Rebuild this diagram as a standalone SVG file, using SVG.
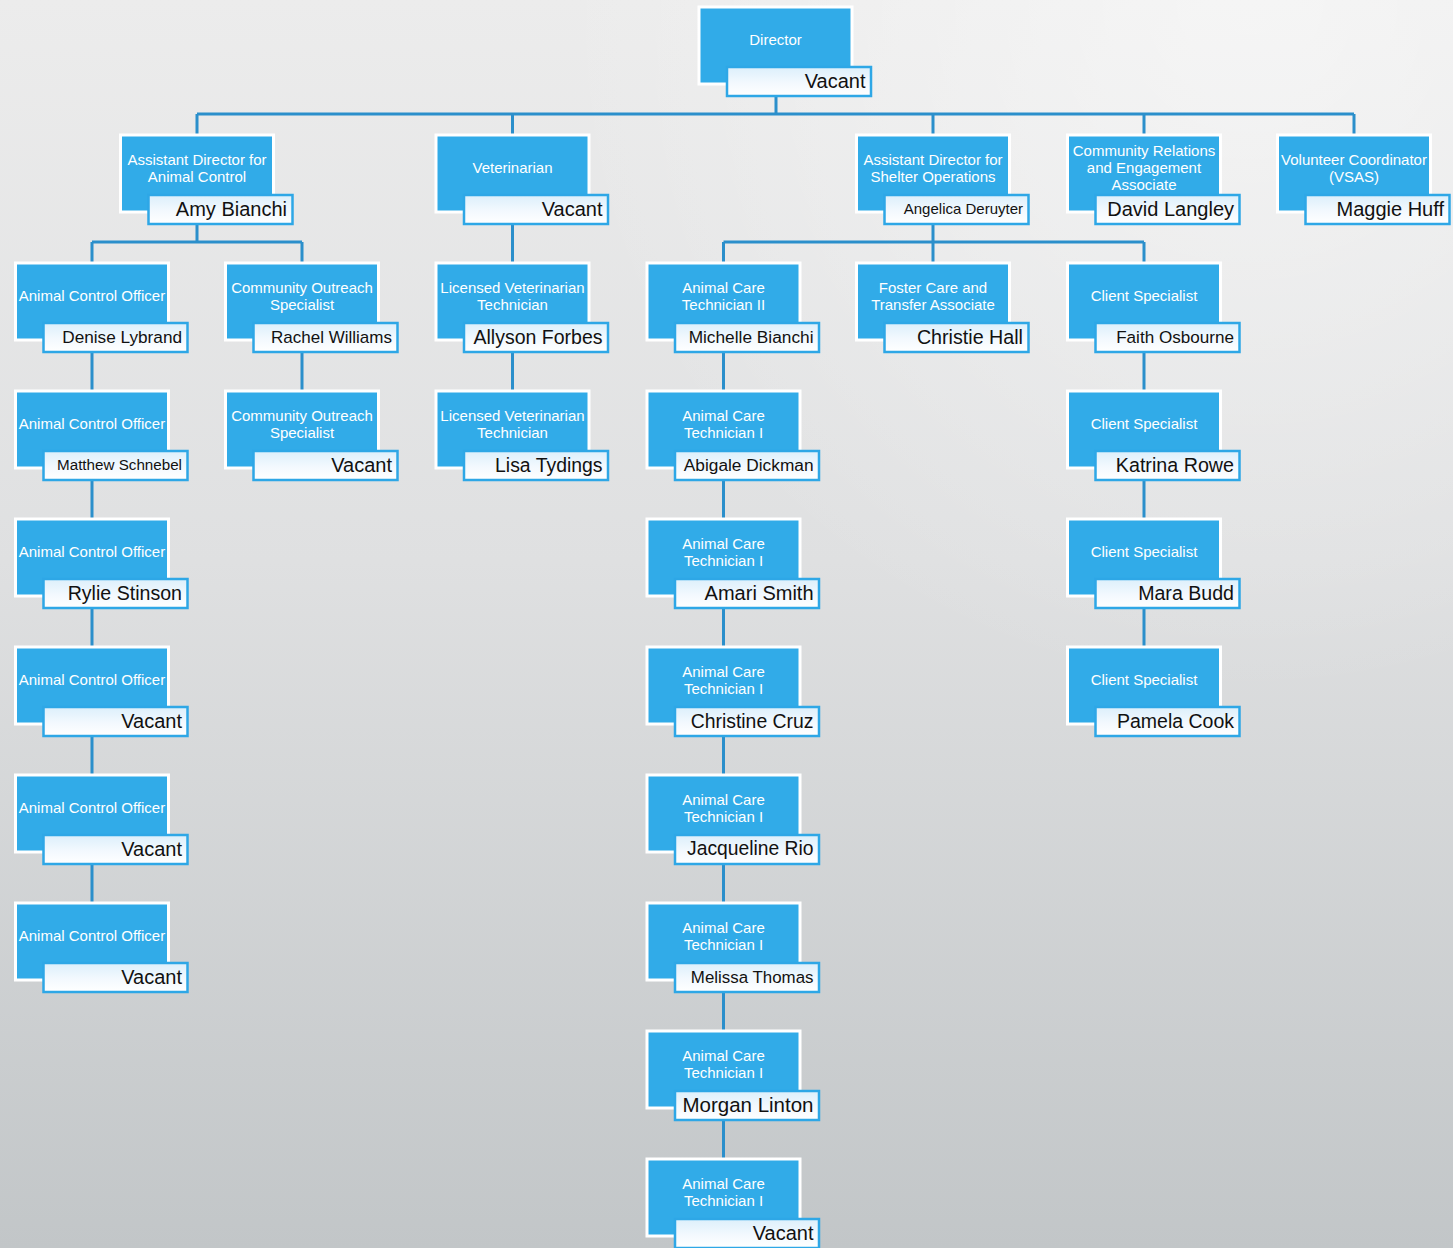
<svg xmlns="http://www.w3.org/2000/svg" width="1453" height="1248" viewBox="0 0 1453 1248">
<defs>
<linearGradient id="bg" x1="0" y1="0" x2="0" y2="1">
<stop offset="0" stop-color="#ececec"/>
<stop offset="0.45" stop-color="#dfe0e1"/>
<stop offset="1" stop-color="#c2c6c8"/>
</linearGradient>
<radialGradient id="hl" gradientUnits="userSpaceOnUse" cx="1250" cy="0" r="700">
<stop offset="0" stop-color="#ffffff" stop-opacity="0.5"/>
<stop offset="1" stop-color="#ffffff" stop-opacity="0"/>
</radialGradient>
<linearGradient id="ng" x1="0" y1="0" x2="0" y2="1">
<stop offset="0" stop-color="#dceffb"/>
<stop offset="0.55" stop-color="#f3f9fe"/>
<stop offset="1" stop-color="#ffffff"/>
</linearGradient>
<style>
.box{fill:#31abe8;stroke:#ffffff;stroke-width:3}
.nm{fill:url(#ng);stroke:#2ea7e6;stroke-width:2.5}
.t{font-family:"Liberation Sans",Arial,sans-serif;font-size:15px;fill:#ffffff;text-anchor:middle}
.n{font-family:"Liberation Sans",Arial,sans-serif;fill:#111111;text-anchor:end}
.c{stroke:#2b8fcb;stroke-width:3;fill:none}
</style>
</defs>
<rect width="1453" height="1248" fill="url(#bg)"/>
<rect width="1453" height="1248" fill="url(#hl)"/>

<g id="connectors" class="c">
<path d="M776,97V114M197,114H1354M197,114V135M512.5,114V135M933,114V135M1144,114V135M1354,114V135"/>
<path d="M197,224V242M92,242H302M92,242V263M302,242V263"/>
<path d="M512.5,224V263"/>
<path d="M933,224V242M723.5,242H1144M723.5,242V263M933,242V263M1144,242V263"/>
<path d="M92,352V391M92,480V519M92,608V647M92,736V775M92,864V903"/>
<path d="M302,352V391"/>
<path d="M512.5,352V391"/>
<path d="M723.5,352V391M723.5,480V519M723.5,608V647M723.5,736V775M723.5,864V903M723.5,992V1031M723.5,1120V1159"/>
<path d="M1144,352V391M1144,480V519M1144,608V647"/>
</g>

<g id="director" transform="translate(699,7)">
<rect class="box" x="0" y="0" width="153" height="77"/>
<rect class="nm" x="28" y="60" width="144" height="29"/>
<text class="t" x="76.5" y="38">Director</text>
<text class="n" x="166.5" y="80.7" font-size="20">Vacant</text>
</g>

<g id="ad-animal-control" transform="translate(120.5,135)">
<rect class="box" x="0" y="0" width="153" height="77"/>
<rect class="nm" x="28" y="60" width="144" height="29"/>
<text class="t" x="76.5" y="29.5">Assistant Director for</text>
<text class="t" x="76.5" y="46.5">Animal Control</text>
<text class="n" x="166.5" y="80.7" font-size="20">Amy Bianchi</text>
</g>

<g id="veterinarian" transform="translate(436,135)">
<rect class="box" x="0" y="0" width="153" height="77"/>
<rect class="nm" x="28" y="60" width="144" height="29"/>
<text class="t" x="76.5" y="38">Veterinarian</text>
<text class="n" x="166.5" y="80.7" font-size="20">Vacant</text>
</g>

<g id="ad-shelter-ops" transform="translate(856.5,135)">
<rect class="box" x="0" y="0" width="153" height="77"/>
<rect class="nm" x="28" y="60" width="144" height="29"/>
<text class="t" x="76.5" y="29.5">Assistant Director for</text>
<text class="t" x="76.5" y="46.5">Shelter Operations</text>
<text class="n" x="166.5" y="78.9" font-size="15">Angelica Deruyter</text>
</g>

<g id="community-relations" transform="translate(1067.5,135)">
<rect class="box" x="0" y="0" width="153" height="77"/>
<rect class="nm" x="28" y="60" width="144" height="29"/>
<text class="t" x="76.5" y="21">Community Relations</text>
<text class="t" x="76.5" y="38">and Engagement</text>
<text class="t" x="76.5" y="55">Associate</text>
<text class="n" x="166.5" y="80.7" font-size="20">David Langley</text>
</g>

<g id="volunteer-coordinator" transform="translate(1277.5,135)">
<rect class="box" x="0" y="0" width="153" height="77"/>
<rect class="nm" x="28" y="60" width="144" height="29"/>
<text class="t" x="76.5" y="29.5">Volunteer Coordinator</text>
<text class="t" x="76.5" y="46.5">(VSAS)</text>
<text class="n" x="166.5" y="80.7" font-size="20">Maggie Huff</text>
</g>

<g id="aco-1" transform="translate(15.5,263)">
<rect class="box" x="0" y="0" width="153" height="77"/>
<rect class="nm" x="28" y="60" width="144" height="29"/>
<text class="t" x="76.5" y="38">Animal Control Officer</text>
<text class="n" x="166.5" y="79.6" font-size="17.2">Denise Lybrand</text>
</g>
<g id="aco-2" transform="translate(15.5,391)">
<rect class="box" x="0" y="0" width="153" height="77"/>
<rect class="nm" x="28" y="60" width="144" height="29"/>
<text class="t" x="76.5" y="38">Animal Control Officer</text>
<text class="n" x="166.5" y="78.9" font-size="15.2">Matthew Schnebel</text>
</g>
<g id="aco-3" transform="translate(15.5,519)">
<rect class="box" x="0" y="0" width="153" height="77"/>
<rect class="nm" x="28" y="60" width="144" height="29"/>
<text class="t" x="76.5" y="38">Animal Control Officer</text>
<text class="n" x="166.5" y="80.5" font-size="19.6">Rylie Stinson</text>
</g>
<g id="aco-4" transform="translate(15.5,647)">
<rect class="box" x="0" y="0" width="153" height="77"/>
<rect class="nm" x="28" y="60" width="144" height="29"/>
<text class="t" x="76.5" y="38">Animal Control Officer</text>
<text class="n" x="166.5" y="80.7" font-size="20">Vacant</text>
</g>
<g id="aco-5" transform="translate(15.5,775)">
<rect class="box" x="0" y="0" width="153" height="77"/>
<rect class="nm" x="28" y="60" width="144" height="29"/>
<text class="t" x="76.5" y="38">Animal Control Officer</text>
<text class="n" x="166.5" y="80.7" font-size="20">Vacant</text>
</g>
<g id="aco-6" transform="translate(15.5,903)">
<rect class="box" x="0" y="0" width="153" height="77"/>
<rect class="nm" x="28" y="60" width="144" height="29"/>
<text class="t" x="76.5" y="38">Animal Control Officer</text>
<text class="n" x="166.5" y="80.7" font-size="20">Vacant</text>
</g>

<g id="cos-1" transform="translate(225.5,263)">
<rect class="box" x="0" y="0" width="153" height="77"/>
<rect class="nm" x="28" y="60" width="144" height="29"/>
<text class="t" x="76.5" y="29.5">Community Outreach</text>
<text class="t" x="76.5" y="46.5">Specialist</text>
<text class="n" x="166.5" y="79.6" font-size="17">Rachel Williams</text>
</g>
<g id="cos-2" transform="translate(225.5,391)">
<rect class="box" x="0" y="0" width="153" height="77"/>
<rect class="nm" x="28" y="60" width="144" height="29"/>
<text class="t" x="76.5" y="29.5">Community Outreach</text>
<text class="t" x="76.5" y="46.5">Specialist</text>
<text class="n" x="166.5" y="80.7" font-size="20">Vacant</text>
</g>

<g id="lvt-1" transform="translate(436,263)">
<rect class="box" x="0" y="0" width="153" height="77"/>
<rect class="nm" x="28" y="60" width="144" height="29"/>
<text class="t" x="76.5" y="29.5">Licensed Veterinarian</text>
<text class="t" x="76.5" y="46.5">Technician</text>
<text class="n" x="166.5" y="80.5" font-size="19.5">Allyson Forbes</text>
</g>
<g id="lvt-2" transform="translate(436,391)">
<rect class="box" x="0" y="0" width="153" height="77"/>
<rect class="nm" x="28" y="60" width="144" height="29"/>
<text class="t" x="76.5" y="29.5">Licensed Veterinarian</text>
<text class="t" x="76.5" y="46.5">Technician</text>
<text class="n" x="166.5" y="80.5" font-size="19.4">Lisa Tydings</text>
</g>

<g id="act-1" transform="translate(647,263)">
<rect class="box" x="0" y="0" width="153" height="77"/>
<rect class="nm" x="28" y="60" width="144" height="29"/>
<text class="t" x="76.5" y="29.5">Animal Care</text>
<text class="t" x="76.5" y="46.5">Technician II</text>
<text class="n" x="166.5" y="79.7" font-size="17.3">Michelle Bianchi</text>
</g>
<g id="act-2" transform="translate(647,391)">
<rect class="box" x="0" y="0" width="153" height="77"/>
<rect class="nm" x="28" y="60" width="144" height="29"/>
<text class="t" x="76.5" y="29.5">Animal Care</text>
<text class="t" x="76.5" y="46.5">Technician I</text>
<text class="n" x="166.5" y="79.7" font-size="17.3">Abigale Dickman</text>
</g>
<g id="act-3" transform="translate(647,519)">
<rect class="box" x="0" y="0" width="153" height="77"/>
<rect class="nm" x="28" y="60" width="144" height="29"/>
<text class="t" x="76.5" y="29.5">Animal Care</text>
<text class="t" x="76.5" y="46.5">Technician I</text>
<text class="n" x="166.5" y="80.7" font-size="20">Amari Smith</text>
</g>
<g id="act-4" transform="translate(647,647)">
<rect class="box" x="0" y="0" width="153" height="77"/>
<rect class="nm" x="28" y="60" width="144" height="29"/>
<text class="t" x="76.5" y="29.5">Animal Care</text>
<text class="t" x="76.5" y="46.5">Technician I</text>
<text class="n" x="166.5" y="80.5" font-size="19.4">Christine Cruz</text>
</g>
<g id="act-5" transform="translate(647,775)">
<rect class="box" x="0" y="0" width="153" height="77"/>
<rect class="nm" x="28" y="60" width="144" height="29"/>
<text class="t" x="76.5" y="29.5">Animal Care</text>
<text class="t" x="76.5" y="46.5">Technician I</text>
<text class="n" x="166.5" y="80.4" font-size="19.3">Jacqueline Rio</text>
</g>
<g id="act-6" transform="translate(647,903)">
<rect class="box" x="0" y="0" width="153" height="77"/>
<rect class="nm" x="28" y="60" width="144" height="29"/>
<text class="t" x="76.5" y="29.5">Animal Care</text>
<text class="t" x="76.5" y="46.5">Technician I</text>
<text class="n" x="166.5" y="79.6" font-size="16.9">Melissa Thomas</text>
</g>
<g id="act-7" transform="translate(647,1031)">
<rect class="box" x="0" y="0" width="153" height="77"/>
<rect class="nm" x="28" y="60" width="144" height="29"/>
<text class="t" x="76.5" y="29.5">Animal Care</text>
<text class="t" x="76.5" y="46.5">Technician I</text>
<text class="n" x="166.5" y="80.9" font-size="20.5">Morgan Linton</text>
</g>
<g id="act-8" transform="translate(647,1159)">
<rect class="box" x="0" y="0" width="153" height="77"/>
<rect class="nm" x="28" y="60" width="144" height="29"/>
<text class="t" x="76.5" y="29.5">Animal Care</text>
<text class="t" x="76.5" y="46.5">Technician I</text>
<text class="n" x="166.5" y="80.7" font-size="20">Vacant</text>
</g>

<g id="foster-care" transform="translate(856.5,263)">
<rect class="box" x="0" y="0" width="153" height="77"/>
<rect class="nm" x="28" y="60" width="144" height="29"/>
<text class="t" x="76.5" y="29.5">Foster Care and</text>
<text class="t" x="76.5" y="46.5">Transfer Associate</text>
<text class="n" x="166.5" y="80.6" font-size="19.7">Christie Hall</text>
</g>

<g id="client-1" transform="translate(1067.5,263)">
<rect class="box" x="0" y="0" width="153" height="77"/>
<rect class="nm" x="28" y="60" width="144" height="29"/>
<text class="t" x="76.5" y="38">Client Specialist</text>
<text class="n" x="166.5" y="79.6" font-size="17.1">Faith Osbourne</text>
</g>
<g id="client-2" transform="translate(1067.5,391)">
<rect class="box" x="0" y="0" width="153" height="77"/>
<rect class="nm" x="28" y="60" width="144" height="29"/>
<text class="t" x="76.5" y="38">Client Specialist</text>
<text class="n" x="166.5" y="80.6" font-size="19.7">Katrina Rowe</text>
</g>
<g id="client-3" transform="translate(1067.5,519)">
<rect class="box" x="0" y="0" width="153" height="77"/>
<rect class="nm" x="28" y="60" width="144" height="29"/>
<text class="t" x="76.5" y="38">Client Specialist</text>
<text class="n" x="166.5" y="80.5" font-size="19.6">Mara Budd</text>
</g>
<g id="client-4" transform="translate(1067.5,647)">
<rect class="box" x="0" y="0" width="153" height="77"/>
<rect class="nm" x="28" y="60" width="144" height="29"/>
<text class="t" x="76.5" y="38">Client Specialist</text>
<text class="n" x="166.5" y="80.5" font-size="19.5">Pamela Cook</text>
</g>
</svg>
